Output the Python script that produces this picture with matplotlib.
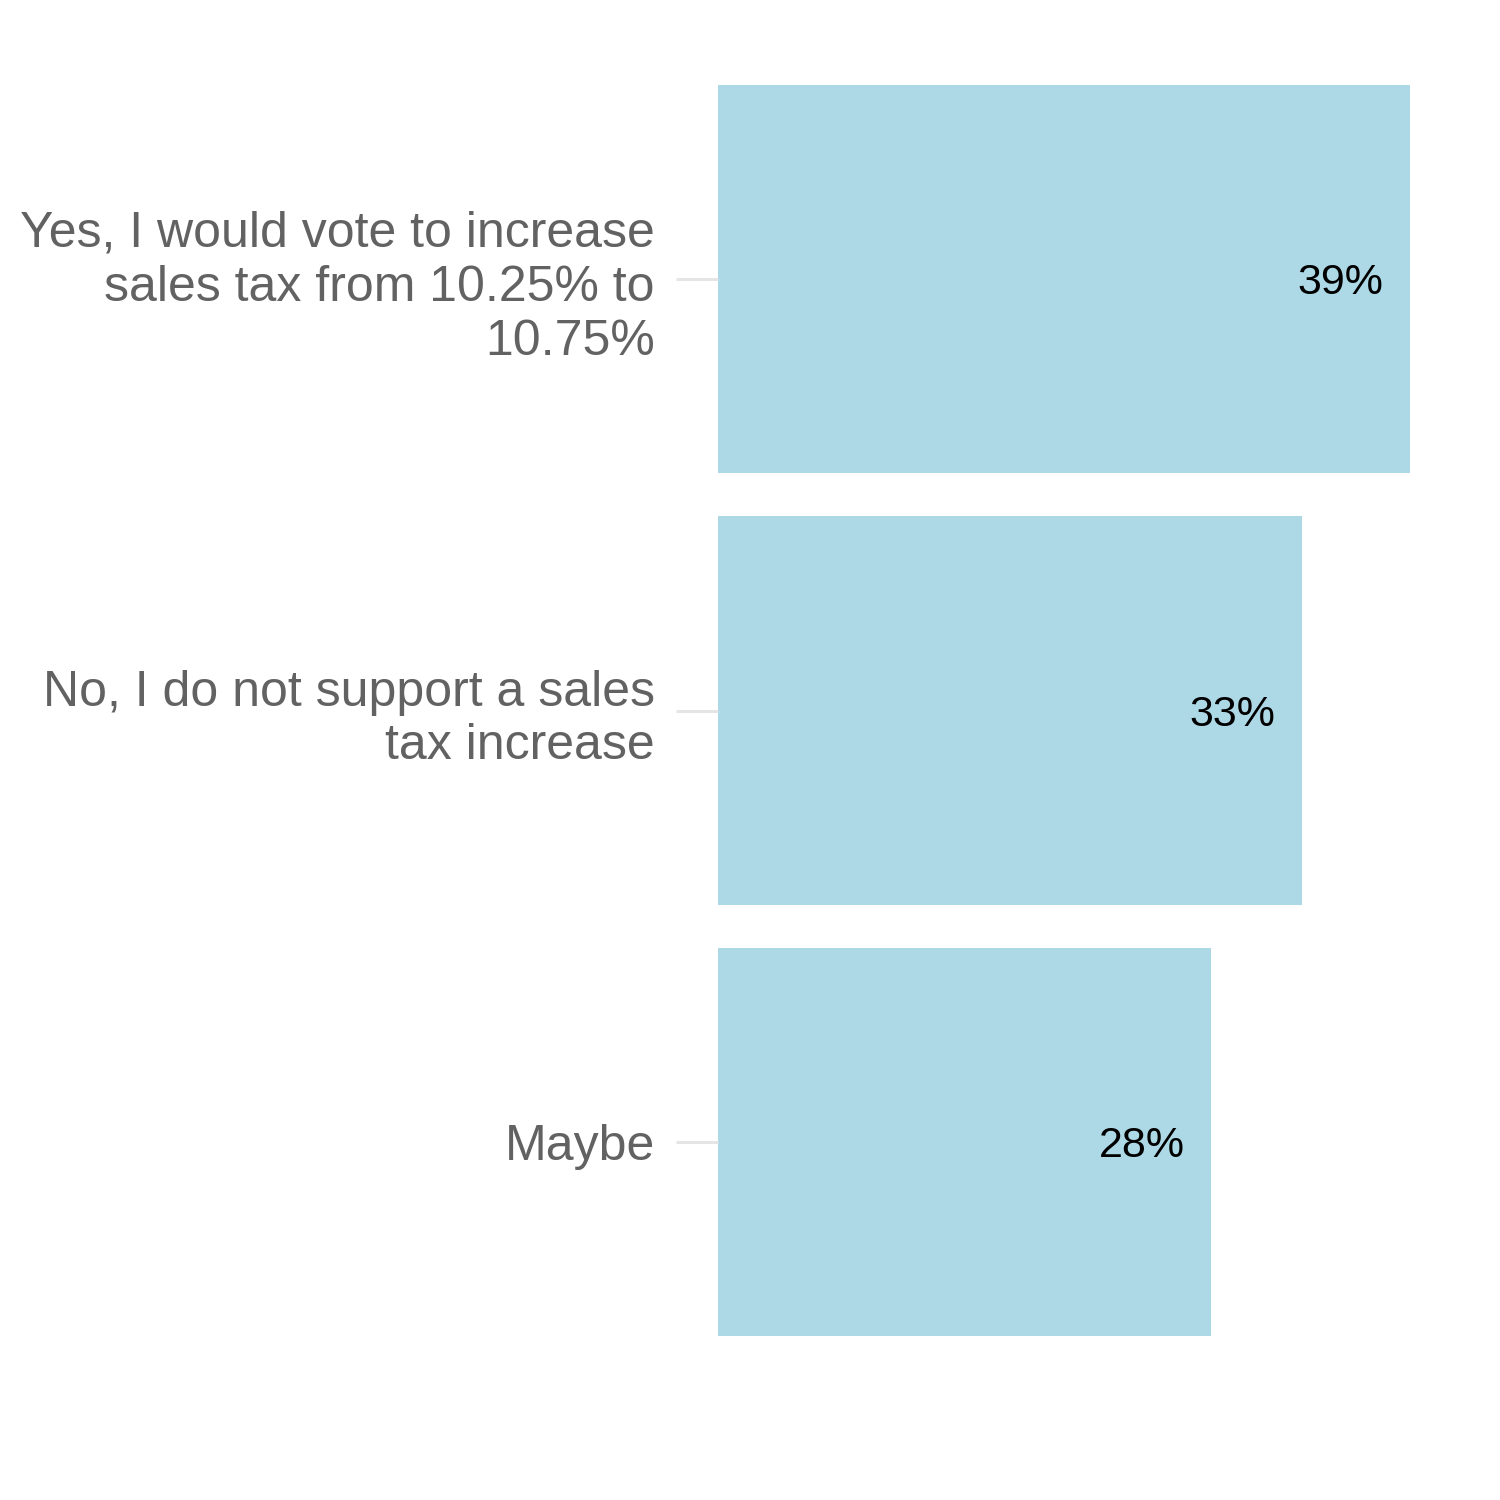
import matplotlib.pyplot as plt
import numpy as np

plt.rcParams['font.family'] = ['Liberation Sans', 'DejaVu Sans']

# survey answers, top to bottom
answers = [
    "Yes, I would vote to increase\nsales tax from 10.25% to\n10.75%",
    "No, I do not support a sales\ntax increase",
    "Maybe",
]
shares = [39.0, 32.9, 27.8]  # percent
share_labels = ["39%", "33%", "28%"]

px = 100 / 72  # pixels per point at dpi 100

fig = plt.figure(figsize=(15, 15), dpi=100)
ax = fig.add_axes([718 / 1500, 1 - 1401 / 1500, 745 / 1500, 1381 / 1500])

y = np.arange(len(answers))
ax.barh(y, shares, height=0.9, color="#ADD8E6")
for yi, v, lab in zip(y, shares, share_labels):
    ax.text(v - 1.5, yi + 0.01, lab, ha="right", va="center", fontsize=31, color="black")

ax.set_xlim(0, 42)
ax.set_ylim(len(answers) - 0.4, -0.6)
ax.set_yticks(y)
ax.set_yticklabels(answers, fontsize=36, color="#626262", linespacing=1.22)
ax.tick_params(axis="y", length=42 / px, width=3 / px, color="#E5E5E5", pad=21 / px)
ax.set_xticks([])
for s in ax.spines.values():
    s.set_visible(False)

fig.savefig("out.png", dpi=100)
